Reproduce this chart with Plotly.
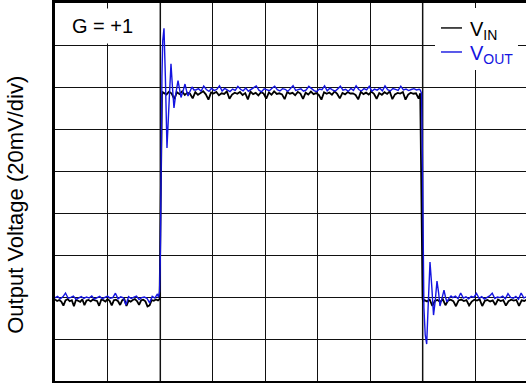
import numpy as np
import plotly.graph_objects as go

# ---- data (time in divisions, voltage in mV; 20 mV/div) ----
edge_times = [2.0, 7.0]

vin_a_start, vin_a_step = 0.0, 0.04
vin_a = [-1.2,-1.9,-1.4,-2.2,-4.1,-1.6,-1.0,-2.0,-1.5,-4.4,-1.3,-1.8,-2.3,-1.1,-3.9,-1.7,-1.4,-2.1,-1.2,-1.6,
         -1.9,-4.2,-1.3,-1.5,-2.2,-1.0,-1.8,-4.0,-1.6,-1.3,-2.0,-3.8,-1.5,-1.1,-4.3,-1.7,-2.2,-1.4,-1.0,-1.9,
         -3.7,-1.6,-1.3,-2.1,-4.5,-4.0,-1.5,-1.8,-1.2,-1.6]
vin_rise_t = [1.99, 2.005, 2.02, 2.035, 2.05]
vin_rise_v = [-1.0, 30.0, 80.0, 96.0, 97.5]
vin_b_start, vin_b_step = 2.07, 0.05
vin_b = [97.2,96.4,97.8,96.9,94.2,97.5,96.6,97.9,96.2,97.3,
         96.8,94.6,97.6,96.3,97.1,98.0,96.5,94.0,97.4,96.9,
         97.7,96.1,97.0,96.7,97.9,94.4,96.4,97.3,96.8,97.6,
         96.2,97.1,94.1,97.8,96.6,97.2,96.0,97.5,96.9,94.5,
         97.4,96.3,97.9,96.7,97.0,96.5,94.2,97.6,96.8,97.2,
         96.1,97.7,96.9,94.3,97.3,96.4,97.8,96.6,97.1,96.2,
         94.0,97.5,96.8,97.4,96.3,97.9,96.7,94.6,97.2,96.5,
         97.6,96.9,97.0,96.2,94.1,97.7,96.6,97.3,96.4,97.8,
         96.8,94.4,97.1,96.3,97.5,96.7,97.9,94.2,96.5,97.2,
         96.9,97.6,94.0,96.4,97.3,96.8,97.0,94.5]
vin_fall_t = [6.95, 6.965, 6.98, 6.995, 7.01]
vin_fall_v = [97.0, 70.0, 20.0, -1.0, -2.0]
vin_c_start, vin_c_step = 7.03, 0.05
vin_c = [-1.5,-2.1,-1.2,-4.2,-1.8,-1.4,-2.3,-1.1,-3.9,-1.7,-1.3,-2.0,-4.4,-1.6,-1.2,-1.9,-1.5,-4.0,-2.2,-1.3,
         -1.7,-1.1,-4.3,-1.8,-1.4,-2.1,-1.6,-3.8,-1.2,-1.9,-1.5,-4.1,-2.0,-1.3,-1.7,-1.4,-4.2,-1.6,-1.9,-1.2]

vout_a_start, vout_a_step = 0.0, 0.05
vout_a = [-0.4,0.3,-0.9,0.1,1.9,-0.6,-0.2,0.4,-1.1,-0.3,0.2,-0.7,0.0,-0.5,0.5,-1.0,-0.2,0.3,-0.8,-0.1,
          0.4,-0.6,-0.3,1.8,-0.9,0.1,-0.4,-3.8,0.2,-0.7,-0.2,0.4,-1.2,-0.3,0.0,-0.6,-2.8,0.3,-0.5,1.5]
vout_rise_t = [1.97,1.99,2.005,2.02,2.035,2.05,2.074,2.10,2.131,2.17,2.207,2.235,2.264,2.30,2.341,2.37,
               2.398,2.435,2.474,2.50,2.531,2.57,2.607,2.645]
vout_rise_v = [-0.2,2.5,20.0,70.0,105.0,122.0,128.0,105.0,71.0,92.0,111.0,100.0,90.0,97.0,103.0,99.0,
               95.0,98.0,101.4,98.5,95.7,98.0,100.0,98.6]
vout_b_start, vout_b_step = 2.68, 0.05
vout_b = [98.6,99.2,98.0,100.4,98.8,97.9,99.4,98.3,98.9,100.6,
          98.1,99.3,98.7,97.8,99.0,98.4,100.3,98.9,98.2,99.5,
          98.0,98.8,99.3,100.5,98.5,97.7,99.1,98.6,98.2,99.4,
          100.4,98.7,98.1,99.2,98.9,97.9,99.3,100.6,98.4,98.8,
          99.1,98.0,98.6,100.3,99.2,98.3,97.8,99.0,98.7,100.5,
          98.2,99.4,98.6,98.0,99.1,100.4,98.5,98.9,97.9,99.3,
          98.4,100.6,98.8,98.1,99.2,98.6,100.3,98.0,99.0,98.5,
          99.4,98.2,100.5,98.7,98.1,99.3,98.9,98.4,100.4,98.6,
          99.0,98.3,98.8,99.2,98.6,98.9]
vout_fall_t = [6.95,6.975,6.99,7.003,7.02,7.045,7.073,7.10,7.136,7.17,7.203,7.235,7.269,7.30,7.326,
               7.36,7.402,7.43,7.459,7.50,7.536]
vout_fall_v = [98.6,97.0,70.0,30.0,-5.0,-18.0,-22.4,-5.0,16.7,5.0,-8.6,-2.0,7.6,2.0,-4.3,-1.0,3.3,0.0,
               -2.4,-0.5,0.5]
vout_c_start, vout_c_step = 7.57, 0.05
vout_c = [-0.3,0.4,-0.8,1.9,-0.5,0.1,-0.9,0.3,-0.2,1.7,-0.6,0.2,-1.0,-0.4,0.5,1.8,-0.7,0.0,-0.3,0.4,
          -0.9,1.6,-0.2,-0.6,0.3,-1.1,1.9,-0.4,0.1]

series_names = ["V<sub>IN</sub>", "V<sub>OUT</sub>"]


def seg_t(start, step, vals):
    return list(start + step * np.arange(len(vals)))


vin_t = (seg_t(vin_a_start, vin_a_step, vin_a) + vin_rise_t + seg_t(vin_b_start, vin_b_step, vin_b)
         + vin_fall_t + seg_t(vin_c_start, vin_c_step, vin_c))
vin_v = vin_a + vin_rise_v + vin_b + vin_fall_v + vin_c
vout_t = (seg_t(vout_a_start, vout_a_step, vout_a) + vout_rise_t + seg_t(vout_b_start, vout_b_step, vout_b)
          + vout_fall_t + seg_t(vout_c_start, vout_c_step, vout_c))
vout_v = vout_a + vout_rise_v + vout_b + vout_fall_v + vout_c

BLUE = "#1414e0"
FONT = "Arial, Liberation Sans, sans-serif"
colors = ["black", BLUE]

fig = go.Figure()
fig.add_trace(go.Scatter(x=vin_t, y=vin_v, mode="lines", line=dict(color="black", width=1.8),
                         name=series_names[0], showlegend=False))
fig.add_trace(go.Scatter(x=vout_t, y=vout_v, mode="lines", line=dict(color=BLUE, width=1.4),
                         name=series_names[1], showlegend=False))

for t in edge_times:
    fig.add_shape(type="line", xref="x", yref="paper", x0=t, x1=t, y0=0, y1=1,
                  line=dict(color="#8c8c8c", width=2), layer="between")

# legend box (white, hides grid), dashes and labels
fig.add_shape(type="rect", xref="paper", yref="paper", x0=0.8068, x1=0.983, y0=0.8228, y1=0.9868,
              fillcolor="white", line=dict(width=0), layer="above")
legend_y = [0.934, 0.8704]
for name, col, ly in zip(series_names, colors, legend_y):
    fig.add_shape(type="line", xref="paper", yref="paper", x0=0.8195, x1=0.8641, y0=ly, y1=ly,
                  line=dict(color=col, width=1.4), layer="above")
    fig.add_annotation(xref="paper", yref="paper", x=0.876, y=ly - 0.006, xanchor="left", yanchor="middle",
                       text=name, showarrow=False, font=dict(family=FONT, size=20, color=col))

fig.add_annotation(xref="paper", yref="paper", x=0.022, y=0.938, xanchor="left", yanchor="middle",
                   text="G = +1", showarrow=False, font=dict(family=FONT, size=20, color="black"),
                   bgcolor="white", borderpad=6)
fig.add_annotation(xref="paper", yref="paper", x=-0.083, y=0.466, xanchor="center", yanchor="middle",
                   text="Output Voltage (20mV/div)", textangle=-90, showarrow=False,
                   font=dict(family=FONT, size=22, color="black"))

fig.update_layout(
    width=526, height=383, margin=dict(l=55, r=0, t=3, b=2),
    plot_bgcolor="white", paper_bgcolor="white",
    xaxis=dict(range=[0, 471 / 52.55], dtick=1, tick0=0, showgrid=True, gridcolor="#111111",
               gridwidth=1.3, showticklabels=False, zeroline=False, ticks="",
               showline=True, linecolor="black", linewidth=3, mirror=True),
    yaxis=dict(range=[-40, 140], dtick=20, tick0=0, showgrid=True, gridcolor="#111111",
               gridwidth=1.3, showticklabels=False, zeroline=False, ticks="",
               showline=True, linecolor="black", linewidth=3, mirror=False),
)

fig.write_html("out.html")
